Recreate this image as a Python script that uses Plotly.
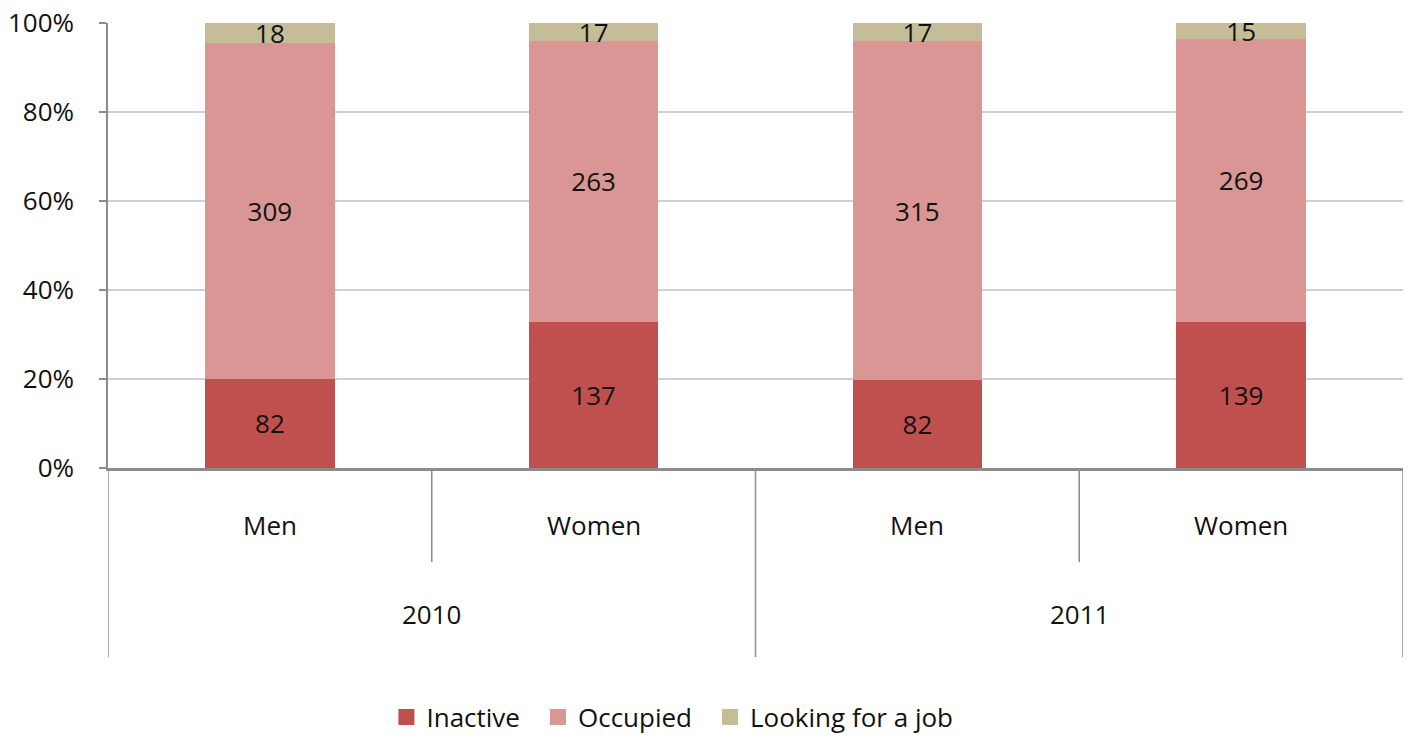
import plotly.graph_objects as go

# Employment status counts by sex and year
years = ["2010", "2010", "2011", "2011"]
sexes = ["Men", "Women", "Men", "Women"]
inactive = [82, 137, 82, 139]
occupied = [309, 263, 315, 269]
looking = [18, 17, 17, 15]

series = [
    ("Inactive", inactive, "#C0504D"),
    ("Occupied", occupied, "#D99694"),
    ("Looking for a job", looking, "#C4BD97"),
]

FONT = "Open Sans"
TXT = "#111111"
FS = 26
xpos = [i + 0.5 for i in range(len(sexes))]

fig = go.Figure()
for name, vals, color in series:
    fig.add_trace(go.Bar(
        x=xpos, y=vals, name=name, showlegend=False,
        marker=dict(color=color, line=dict(width=0)),
        text=[str(v) for v in vals],
        textposition="inside", insidetextanchor="middle", textangle=0,
        textfont=dict(family=FONT, size=FS, color=TXT),
        width=0.4,
    ))
# Square legend keys (en space pads the gap between entries)
for name, vals, color in series:
    fig.add_trace(go.Scatter(
        x=[None], y=[None], mode="markers", name=name + "\u2002",
        marker=dict(symbol="square", size=18, color=color),
    ))

# Axis divider lines under the category axis
line_style = dict(color="#8C8C8C", width=1.5)
shapes = []
for xb in [0, 2, 4]:
    shapes.append(dict(type="line", xref="x", yref="paper", x0=xb, x1=xb,
                       y0=0, y1=-0.425, line=line_style))
for xb in [1, 3]:
    shapes.append(dict(type="line", xref="x", yref="paper", x0=xb, x1=xb,
                       y0=0, y1=-0.211, line=line_style))

annotations = []
for xp, s in zip(xpos, sexes):
    annotations.append(dict(x=xp, y=-0.128, xref="x", yref="paper", text=s,
                            yanchor="middle", showarrow=False,
                            font=dict(family=FONT, size=FS, color=TXT)))
for i, yr in enumerate(sorted(set(years))):
    annotations.append(dict(x=2 * i + 1, y=-0.328, xref="x", yref="paper", text=yr,
                            yanchor="middle", showarrow=False,
                            font=dict(family=FONT, size=FS, color=TXT)))

fig.update_layout(
    width=1409, height=736,
    margin=dict(l=108, r=6, t=23, b=268, autoexpand=False),
    barmode="stack", barnorm="percent",
    plot_bgcolor="white", paper_bgcolor="white",
    font=dict(family=FONT, size=FS, color=TXT),
    uniformtext=dict(minsize=FS, mode="show"),
    shapes=shapes, annotations=annotations,
    legend=dict(orientation="h", x=0.215, xanchor="left", y=-0.56, yanchor="middle",
                font=dict(family=FONT, size=FS, color=TXT),
                traceorder="normal", itemwidth=30),
    xaxis=dict(range=[0, 4], showticklabels=False, showgrid=False, zeroline=False,
               showline=True, linecolor="#8C8C8C", linewidth=2.5, ticks=""),
    yaxis=dict(range=[0, 100], dtick=20, ticksuffix="%", showgrid=True,
               gridcolor="#D0D0D0", gridwidth=1.5, zeroline=False,
               showline=True, linecolor="#8C8C8C", linewidth=1.5,
               ticks="outside", ticklen=7, tickcolor="#8C8C8C", tickwidth=1.5,
               ticklabelstandoff=20,
               tickfont=dict(family=FONT, size=FS, color=TXT)),
)

fig.write_html("out.html")
